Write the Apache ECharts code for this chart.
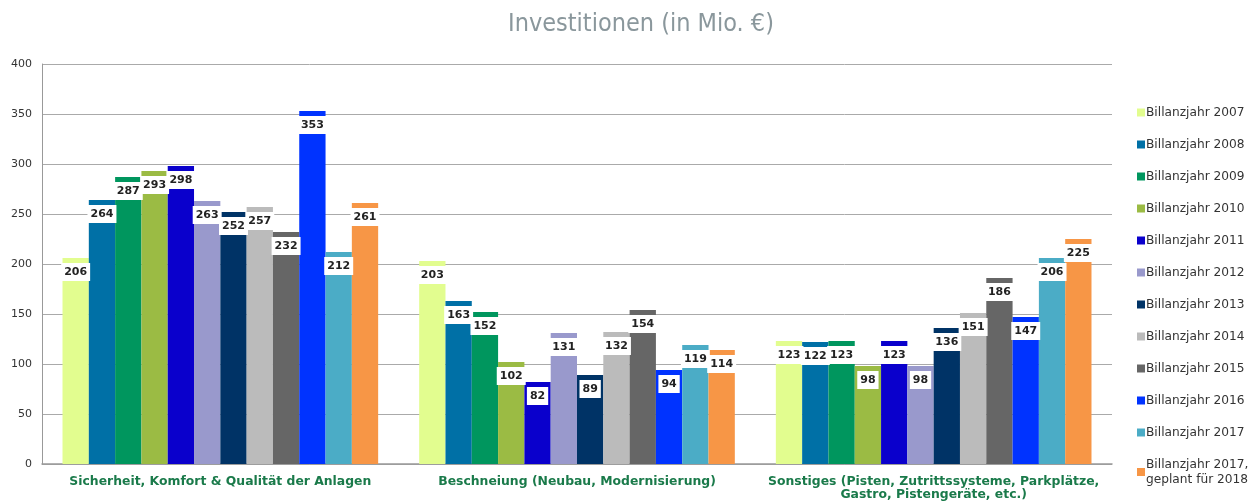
<!DOCTYPE html>
<html>
<head>
<meta charset="utf-8">
<script src="https://cdn.jsdelivr.net/npm/echarts@6/dist/echarts.min.js"></script>
<style>
  html, body, #main { width: 100%; height: 100%; margin: 0; background: #fff; }
</style>
</head>
<body>
<div id="main"></div>
<script>
var categories = [
    'Sicherheit, Komfort & Qualität der Anlagen',
    'Beschneiung (Neubau, Modernisierung)',
    'Sonstiges (Pisten, Zutrittssysteme, Parkplätze,\nGastro, Pistengeräte, etc.)'
];
var seriesNames = [
    'Billanzjahr 2007', 'Billanzjahr 2008', 'Billanzjahr 2009', 'Billanzjahr 2010',
    'Billanzjahr 2011', 'Billanzjahr 2012', 'Billanzjahr 2013', 'Billanzjahr 2014',
    'Billanzjahr 2015', 'Billanzjahr 2016', 'Billanzjahr 2017',
    'Billanzjahr 2017,\ngeplant für 2018'
];
var colors = [
    '#e2fd8f', '#0070a6', '#00965e', '#9bbb44', '#0a00cc', '#9999cc',
    '#003366', '#bbbbbb', '#666666', '#0033ff', '#4bacc6', '#f79646'
];
// values per category, one entry per year
var sicherheit = [206, 264, 287, 293, 298, 263, 252, 257, 232, 353, 212, 261];
var beschneiung = [203, 163, 152, 102, 82, 131, 89, 132, 154, 94, 119, 114];
var sonstiges = [123, 122, 123, 98, 123, 98, 136, 151, 186, 147, 206, 225];

var chart = echarts.init(document.getElementById('main'));

var series = seriesNames.map(function (name, i) {
    return {
        name: name,
        type: 'bar',
        barGap: 0,
        barCategoryGap: '11.5%',
        itemStyle: { color: colors[i] },
        data: [sicherheit[i], beschneiung[i], sonstiges[i]],
        label: {
            show: true,
            position: 'insideTop',
            distance: 5,
            backgroundColor: '#fff',
            padding: [4, 3, 3, 3],
            color: '#222',
            fontFamily: 'DejaVu Sans',
            fontSize: 11,
            fontWeight: 'bold'
        }
    };
});

chart.setOption({
    animation: false,
    title: {
        text: 'Investitionen (in Mio. €)',
        left: 503,
        top: 7,
        textStyle: {
            fontFamily: "'Liberation Sans Narrow', 'DejaVu Sans Condensed', 'Roboto Condensed', Roboto, sans-serif",
            fontSize: 25,
            fontWeight: 'normal',
            color: '#8a979c'
        }
    },
    legend: {
        orient: 'vertical',
        left: 1137,
        top: 105,
        padding: 0,
        itemWidth: 8,
        itemHeight: 8,
        itemGap: 17,
        icon: 'rect',
        data: seriesNames,
        textStyle: {
            fontFamily: 'DejaVu Sans',
            fontSize: 12.2,
            lineHeight: 15,
            color: '#333',
            padding: [0, 0, 0, -4]
        }
    },
    grid: {
        left: 42,
        right: 147,
        top: 64,
        bottom: 40
    },
    xAxis: {
        type: 'category',
        data: categories,
        axisTick: { show: false },
        axisLine: { lineStyle: { color: '#999', width: 1.5 } },
        axisLabel: {
            margin: 11,
            interval: 0,
            fontFamily: 'DejaVu Sans',
            fontSize: 12.4,
            fontWeight: 'bold',
            lineHeight: 13,
            color: '#1a7a4a'
        }
    },
    yAxis: {
        type: 'value',
        min: 0,
        max: 400,
        interval: 50,
        axisLine: { show: true, lineStyle: { color: '#999' } },
        axisTick: { show: false },
        splitLine: { lineStyle: { color: '#aaa' } },
        axisLabel: {
            margin: 10,
            fontFamily: 'DejaVu Sans',
            fontSize: 11,
            color: '#333'
        }
    },
    series: series
});
</script>
</body>
</html>
